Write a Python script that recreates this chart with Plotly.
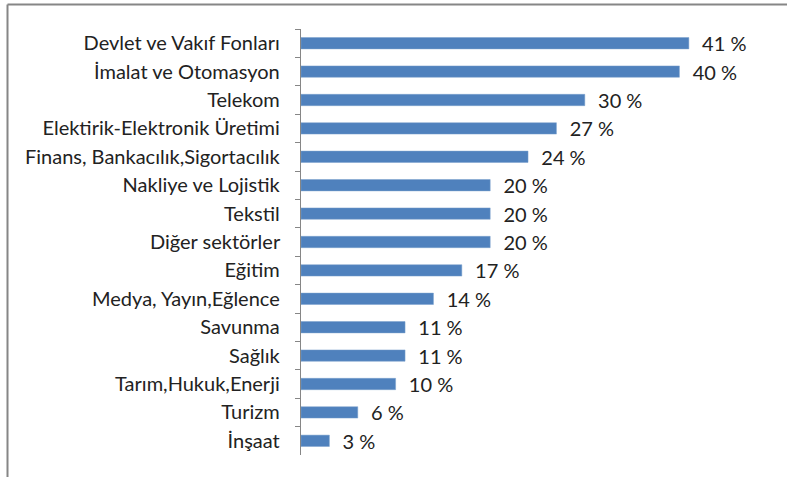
import plotly.graph_objects as go

categories = ["Devlet ve Vakıf Fonları", "İmalat ve Otomasyon", "Telekom",
              "Elektirik-Elektronik Üretimi", "Finans, Bankacılık,Sigortacılık",
              "Nakliye ve Lojistik", "Tekstil", "Diğer sektörler", "Eğitim",
              "Medya, Yayın,Eğlence", "Savunma", "Sağlık", "Tarım,Hukuk,Enerji",
              "Turizm", "İnşaat"]
values = [41, 40, 30, 27, 24, 20, 20, 20, 17, 14, 11, 11, 10, 6, 3]

W, H = 787, 477
L, R, T, B = 301, 13, 29, 22
xmax = 50
FS = 20
FONT = "Lato"

fig = go.Figure(go.Bar(
    y=categories, x=values, orientation="h",
    marker=dict(color="#4F81BD", line=dict(color="#7BA0CD", width=0.5)),
    texttemplate="  %{x} %", textposition="outside", constraintext="none",
    textfont=dict(family=FONT, size=FS, color="#222222"),
    cliponaxis=False,
))

pw = W - L - R
ph = H - T - B
def px_x(p):
    return (p - L) / pw
def px_y(p):
    return 1 - (p - T) / ph

frame = dict(color="#868686", width=2)
fig.add_shape(type="line", xref="paper", yref="paper",
              x0=px_x(7.5), x1=px_x(W), y0=px_y(4.5), y1=px_y(4.5), line=frame)
fig.add_shape(type="line", xref="paper", yref="paper",
              x0=px_x(7.5), x1=px_x(7.5), y0=px_y(4.5), y1=px_y(H), line=frame)

fig.update_layout(
    width=W, height=H, margin=dict(l=L, r=R, t=T, b=B),
    paper_bgcolor="white", plot_bgcolor="white",
    bargap=0.6, showlegend=False,
    font=dict(family=FONT, size=FS, color="#222222"),
    xaxis=dict(range=[0, xmax], visible=False, fixedrange=True),
    yaxis=dict(autorange="reversed", tickson="boundaries", ticks="outside",
               ticklen=5, tickcolor="#868686", showline=True, linecolor="#868686",
               linewidth=1, showgrid=False, ticksuffix="  ", ticklabelstandoff=6,
               fixedrange=True,
               tickfont=dict(family=FONT, size=FS, color="#222222")),
)

fig.write_html("out.html", config={"displayModeBar": False},
               post_script=("document.body.style.margin='0';"
                            "document.body.style.overflow='hidden';"
                            "document.documentElement.style.overflow='hidden';"))
